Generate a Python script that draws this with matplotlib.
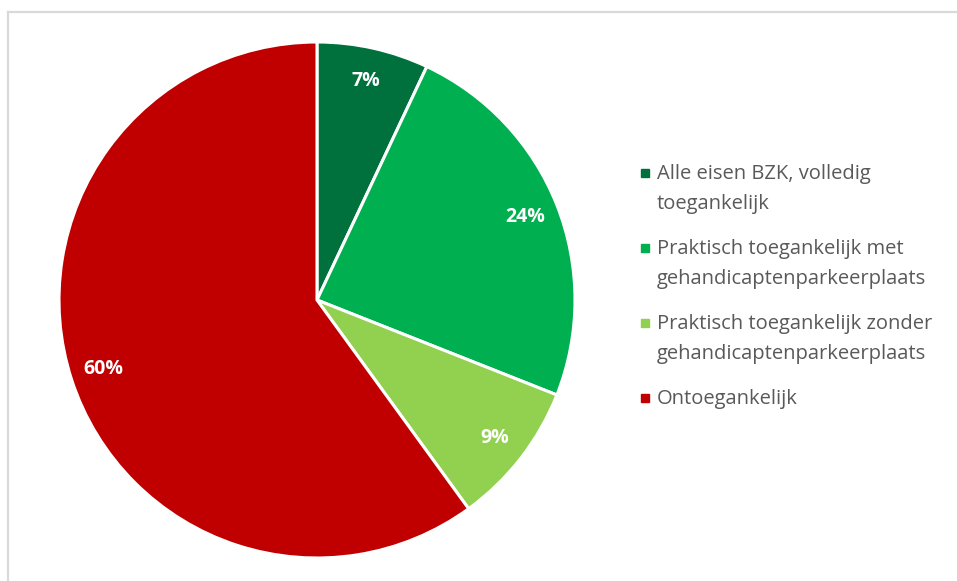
import matplotlib
matplotlib.use("Agg")
import matplotlib.pyplot as plt
from matplotlib.lines import Line2D

categories = [
    "Alle eisen BZK, volledig\ntoegankelijk",
    "Praktisch toegankelijk met\ngehandicaptenparkeerplaats",
    "Praktisch toegankelijk zonder\ngehandicaptenparkeerplaats",
    "Ontoegankelijk",
]
values = [7, 24, 9, 60]
pct_labels = ["7%", "24%", "9%", "60%"]
colors = ["#00703C", "#00B050", "#92D050", "#C00000"]

plt.rcParams["font.family"] = ["Open Sans", "DejaVu Sans"]

fig = plt.figure(figsize=(9.57, 5.81), dpi=100)
fig.patch.set_facecolor("white")

# outer chart frame (top and left edges visible)
W, H = 957, 581
fig.add_artist(Line2D([8 / W, 1.0], [1 - 12 / H, 1 - 12 / H], color="#D9D9D9", lw=1.6, transform=fig.transFigure))
fig.add_artist(Line2D([8 / W, 8 / W], [0.0, 1 - 12 / H], color="#D9D9D9", lw=1.6, transform=fig.transFigure))

cx, cy, r = 317, 300, 258
ax = fig.add_axes([(cx - r) / W, (H - cy - r) / H, 2 * r / W, 2 * r / H])
wedges, texts = ax.pie(
    values,
    colors=colors,
    startangle=90,
    counterclock=False,
    wedgeprops=dict(edgecolor="white", linewidth=2.2),
    labels=pct_labels,
    labeldistance=0.87,
    textprops=dict(color="white", fontsize=14, fontweight="bold"),
)
for t in texts:
    t.set_horizontalalignment("center")
    t.set_verticalalignment("center")
ax.set_xlim(-1, 1)
ax.set_ylim(-1, 1)
ax.set_aspect("equal")
ax.axis("off")

# legend: marker aligned with first line of each (wrapped) entry
leg_text_x = 657
leg_marker_x = 645
baseline = 179
line_pitch = 30
entry_gap = 15
for label, color in zip(categories, colors):
    lines = label.split("\n")
    fig.add_artist(Line2D([leg_marker_x / W], [1 - (baseline - 6) / H],
                          marker="s", markersize=5.5, linestyle="none",
                          markerfacecolor=color, markeredgecolor=color,
                          transform=fig.transFigure))
    for ln in lines:
        fig.text(leg_text_x / W, 1 - baseline / H, ln, fontsize=14.5,
                 color="#595959", ha="left", va="baseline")
        baseline += line_pitch
    baseline += entry_gap - line_pitch + line_pitch

fig.savefig("out.png", dpi=100)
